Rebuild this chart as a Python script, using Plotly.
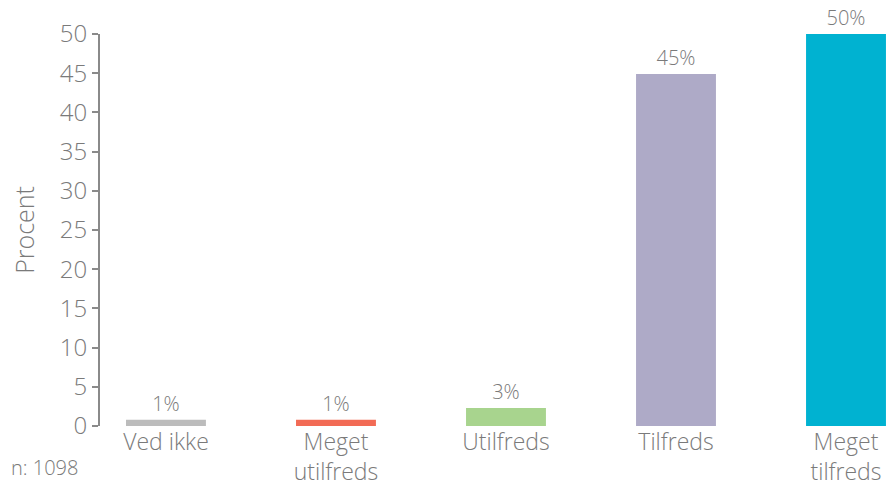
import plotly.graph_objects as go

categories = ["Ved ikke", "Meget<br>utilfreds", "Utilfreds", "Tilfreds", "Meget<br>tilfreds"]
values = [0.8, 0.8, 2.3, 44.9, 50.0]
value_labels = ["1%", "1%", "3%", "45%", "50%"]
colors = ["#bcbcbc", "#f26b55", "#a8d48e", "#aeaac7", "#00b2d1"]
y_ticks = [0, 5, 10, 15, 20, 25, 30, 35, 40, 45, 50]

font_family = "'Open Sans', Roboto, 'Liberation Sans', sans-serif"
gray = "#7a7a7a"

fig = go.Figure()
fig.add_trace(go.Bar(
    x=list(range(len(categories))),
    y=values,
    marker=dict(color=colors, line=dict(width=0)),
    width=0.47,
    text=value_labels,
    textposition="outside",
    cliponaxis=False,
    textfont=dict(family=font_family, size=20, color=gray, weight=300),
))

fig.update_layout(
    width=888, height=488,
    margin=dict(l=100, r=0, t=34, b=62, pad=0),
    plot_bgcolor="white", paper_bgcolor="white",
    showlegend=False,
    font=dict(family=font_family, color=gray, weight=300),
    xaxis=dict(
        tickmode="array",
        tickvals=list(range(len(categories))),
        ticktext=categories,
        range=[-0.388, 4.247],
        showgrid=False, zeroline=False, showline=False,
        ticks="", ticklen=0,
        ticklabelstandoff=0,
        automargin=False,
        tickfont=dict(family=font_family, size=23, color=gray, weight=300),
    ),
    yaxis=dict(
        range=[0, 50],
        tickmode="array",
        tickvals=y_ticks,
        showgrid=False, zeroline=False,
        showline=True, linecolor="#8a8a8a", linewidth=2,
        ticks="outside", ticklen=6, tickcolor="#8a8a8a", tickwidth=1.5,
        tickfont=dict(family=font_family, size=24, color=gray, weight=300),
        title=dict(text="Procent", font=dict(family=font_family, size=25, color=gray, weight=300), standoff=18),
        automargin=False,
    ),
)

fig.add_annotation(
    text="n: 1098", xref="paper", yref="paper",
    x=-0.115, y=-0.107, xanchor="left", yanchor="middle",
    showarrow=False,
    font=dict(family=font_family, size=20, color=gray, weight=300),
)

fig.write_html(
    "out.html",
    config={"displayModeBar": False},
    post_script="document.body.style.margin='0';document.body.style.overflow='hidden';",
)
